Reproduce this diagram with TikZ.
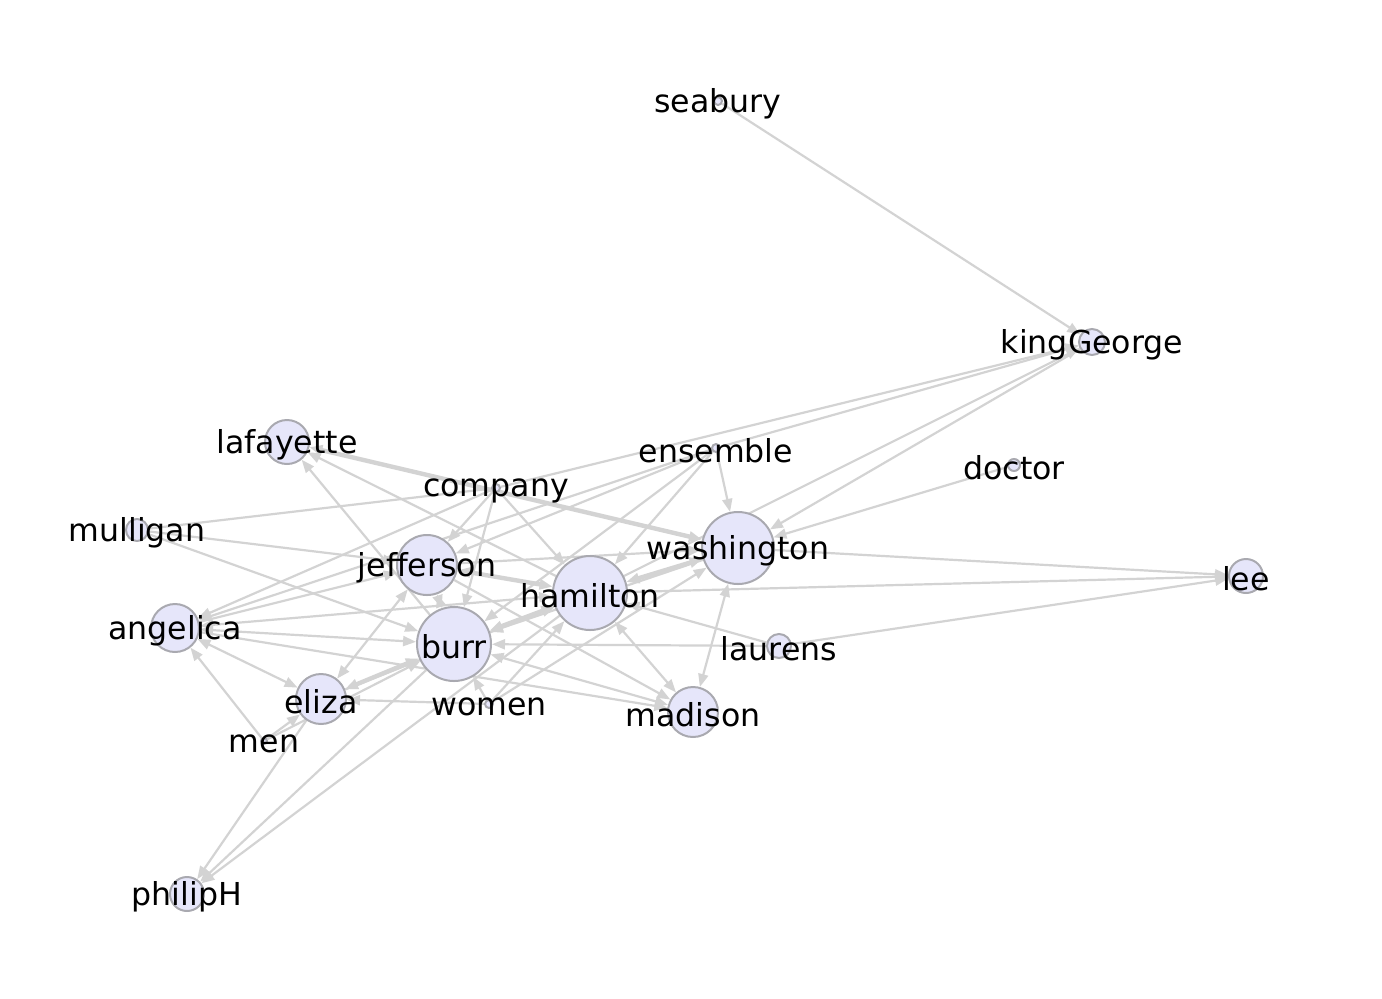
\documentclass[tikz,border=0pt]{standalone}
\usepackage{fontspec}
\setmainfont{DejaVu Sans}
\usepackage{xcolor}
\usetikzlibrary{arrows.meta,backgrounds}
\definecolor{nodefill}{HTML}{E6E6FA}
\definecolor{nodeline}{HTML}{A9A9B0}
\definecolor{edgegray}{HTML}{D3D3D3}

\begin{document}
\begin{tikzpicture}[x=0.5pt,y=-0.5pt,>={Triangle[length=6.5pt,width=5pt]},
  person/.style={circle,draw=nodeline,fill=nodefill,line width=1pt,inner sep=0pt,minimum size=#1},
  every label/.style={font=\fontsize{15.8}{18}\selectfont,text=black,inner sep=0pt,yshift=-1.5pt},
  link/.style={->,draw=edgegray,line width=1.1pt},
  heavy/.style={link,line width=2.2pt}]
  \useasboundingbox (0,0) rectangle (1382,998);
  % people
  \node[person=4pt,label=center:seabury] (seabury) at (718,101) {};
  \node[person=13pt,label=center:kingGeorge] (kingGeorge) at (1092,342) {};
  \node[person=4pt,label=center:ensemble] (ensemble) at (716,448) {};
  \node[person=6pt,label=center:doctor] (doctor) at (1014,465) {};
  \node[person=4pt,label=center:company] (company) at (496,488) {};
  \node[person=22pt,label=center:lafayette] (lafayette) at (287,442) {};
  \node[person=11pt,label=center:mulligan] (mulligan) at (137,530) {};
  \node[person=36pt,label=center:washington] (washington) at (738,548) {};
  \node[person=30pt,label=center:jefferson] (jefferson) at (427,565) {};
  \node[person=37pt,label=center:hamilton] (hamilton) at (590,593) {};
  \node[person=17pt,label=center:lee] (lee) at (1246,576) {};
  \node[person=24pt,label=center:angelica] (angelica) at (175,628) {};
  \node[person=37pt,label=center:burr] (burr) at (454,644) {};
  \node[person=12pt,label=center:laurens] (laurens) at (779,646) {};
  \node[person=25pt,label=center:eliza] (eliza) at (321,699) {};
  \node[person=4pt,label=center:women] (women) at (489,704) {};
  \node[person=25pt,label=center:madison] (madison) at (693,712) {};
  \node[person=3pt,label=center:men] (men) at (264,741) {};
  \node[person=17pt,label=center:philipH] (philipH) at (187,894) {};
  % connections
  \begin{pgfonlayer}{background}
    \foreach \a/\b in {seabury/kingGeorge,company/kingGeorge,ensemble/kingGeorge,
        hamilton/kingGeorge,kingGeorge/washington,doctor/washington,
        washington/lee,hamilton/lee,laurens/lee,laurens/burr,laurens/hamilton,
        ensemble/washington,ensemble/hamilton,ensemble/burr,ensemble/jefferson,
        ensemble/angelica,company/jefferson,company/burr,company/hamilton,
        company/angelica,mulligan/jefferson,mulligan/burr,burr/lafayette,
        hamilton/lafayette,angelica/jefferson,angelica/madison,men/angelica,
        men/eliza,men/burr,eliza/philipH,burr/philipH,hamilton/philipH,
        eliza/hamilton,women/eliza,women/burr,women/hamilton,women/washington,
        jefferson/madison,jefferson/washington,washington/burr}
      \draw[link] (\a) -- (\b);
    \foreach \a/\b in {hamilton/madison,washington/madison,burr/madison,
        angelica/burr,angelica/eliza,angelica/hamilton,jefferson/eliza,
        jefferson/burr}
      \draw[link,<->] (\a) -- (\b);
    \foreach \a/\b in {hamilton/washington,burr/hamilton,eliza/burr,
        lafayette/washington,jefferson/hamilton}
      \draw[heavy,<->] (\a) -- (\b);
    \draw[link,-] (mulligan) -- (company);
  \end{pgfonlayer}
\end{tikzpicture}
\end{document}
